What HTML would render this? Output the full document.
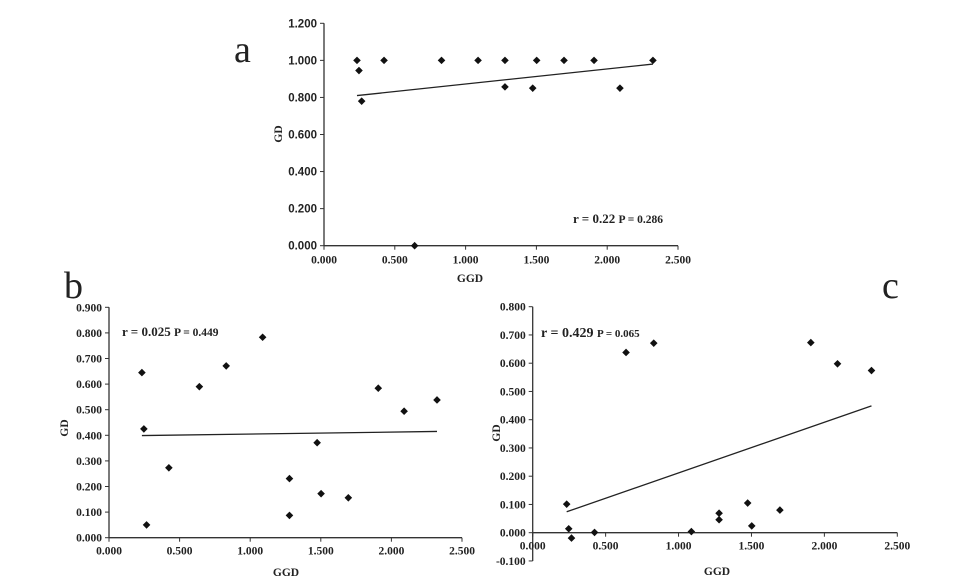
<!DOCTYPE html>
<html><head><meta charset="utf-8"><style>
html,body{margin:0;padding:0;background:#fff;}
svg{display:block;}
</style></head><body>
<svg id="fig" width="955" height="583" viewBox="0 0 955 583" xmlns="http://www.w3.org/2000/svg">
<text x="234" y="62" font-family="Liberation Serif, serif" font-size="38" fill="#222">a</text>
<text x="64" y="298" font-family="Liberation Serif, serif" font-size="38" fill="#222">b</text>
<text x="882" y="298" font-family="Liberation Serif, serif" font-size="38" fill="#222">c</text>
</svg>
<script>
const ggd = [0.233,0.247,0.266,0.424,0.640,0.830,1.088,1.278,1.278,1.474,1.502,1.695,1.907,2.090,2.323];
const gdA = [1.0,0.945,0.78,1.0,0.0,1.0,1.0,1.0,0.857,0.85,1.0,1.0,1.0,0.85,1.0];
const gdB = [0.645,0.425,0.05,0.273,0.59,0.671,0.783,0.231,0.087,0.371,0.172,0.156,0.584,0.494,0.538];
const gdC = [0.101,0.014,-0.019,0.001,0.638,0.671,0.004,0.046,0.069,0.105,0.024,0.08,0.673,0.598,0.574];
const trendA = [[0.233,0.81],[2.323,0.98]];
const trendB = [[0.233,0.399],[2.323,0.415]];
const trendC = [[0.233,0.074],[2.323,0.449]];
const xTicks = [0,0.5,1,1.5,2,2.5];
const yTicksA = [0,0.2,0.4,0.6,0.8,1.0,1.2];
const yTicksB = [0,0.1,0.2,0.3,0.4,0.5,0.6,0.7,0.8,0.9];
const yTicksC = [-0.1,0,0.1,0.2,0.3,0.4,0.5,0.6,0.7,0.8];

const svg = document.getElementById('fig');
const NS = 'http://www.w3.org/2000/svg';
function mk(tag, attrs, parent){const e=document.createElementNS(NS,tag);for(const k in attrs)e.setAttribute(k,attrs[k]);(parent||svg).appendChild(e);return e;}

function panel(p){
  const g = mk('g',{});
  
  
  const sx = v => p.x0 + (v - 0) / 2.5 * (p.x1 - p.x0);
  const sy = v => p.yZero - (v) / (p.yMax) * (p.yZero - p.yTop);
  const axisY = sy(0);
  const ya = mk('line',{x1:p.x0,y1:sy(p.yTicks[0]),x2:p.x0,y2:sy(p.yTicks[p.yTicks.length-1]),stroke:'#333','stroke-width':1.3},g);
  
  
  const xa = mk('line',{x1:p.x0,y1:axisY,x2:p.x1,y2:axisY,stroke:'#333','stroke-width':1.3},g);
  
  
  p.yTicks.forEach(v=>{
    const y=sy(v);
    mk('line',{x1:p.x0-4,y1:y,x2:p.x0,y2:y,stroke:'#333','stroke-width':1},g);
    const t=mk('text',{x:p.x0-7,y:y+4,'text-anchor':'end','font-family':p.yFont,'font-size':p.fs,'font-weight':'bold',fill:'#222'},g);
    t.textContent=v.toFixed(3);
    
    
  });
  xTicks.forEach(v=>{
    const x=sx(v);
    mk('line',{x1:x,y1:axisY,x2:x,y2:axisY+4,stroke:'#333','stroke-width':1},g);
    const t=mk('text',{x:x,y:axisY+p.xLabOff,'text-anchor':'middle','font-family':'Liberation Serif, serif','font-size':p.fs,'font-weight':'bold',fill:'#222'},g);
    t.textContent=v.toFixed(3);
    
    
  });
  const tl = mk('line',{x1:sx(p.trend[0][0]),y1:sy(p.trend[0][1]),x2:sx(p.trend[1][0]),y2:sy(p.trend[1][1]),stroke:'#222','stroke-width':1.3},g);
  
  
  ggd.forEach((xv,i)=>{
    const cx=sx(xv), cy=sy(p.gd[i]), r=3.8;
    const d=mk('polygon',{points:`${cx},${cy-r} ${cx+r},${cy} ${cx},${cy+r} ${cx-r},${cy}`,fill:'#111'},g);
    
    
  });
  const yt=mk('text',{x:0,y:0,transform:`translate(${p.gdX},${p.gdY}) rotate(-90)`,'text-anchor':'middle','font-family':'Liberation Serif, serif','font-size':p.fs,'font-weight':'bold',fill:'#222'},g);
  yt.textContent='GD';
  
  
  const xt=mk('text',{x:p.ggdX,y:p.ggdY,'text-anchor':'middle','font-family':'Liberation Serif, serif','font-size':p.fs,'font-weight':'bold',fill:'#222'},g);
  xt.textContent='GGD';
  
  
  const an=mk('text',{x:p.annX,y:p.annY,'font-family':'Liberation Serif, serif','font-weight':'bold',fill:'#222'},g);
  
  
  const s1=mk('tspan',{'font-size':p.rfs},an); s1.textContent=p.r+'  ';
  const s2=mk('tspan',{'font-size':p.pfs},an); s2.textContent=p.pv;
}

panel({id:'a',x0:324,x1:678,yZero:245.7,yTop:23.3,yMax:1.2,yTicks:yTicksA,gd:gdA,trend:trendA,
  yFont:'Liberation Sans, sans-serif',fs:11.5,xLabOff:18,gdX:282,gdY:134,ggdX:470,ggdY:282,
  annX:573,annY:223,rfs:13,pfs:11.5,r:'r = 0.22',pv:'P = 0.286'});
panel({id:'b',x0:109,x1:462,yZero:537.7,yTop:307.3,yMax:0.9,yTicks:yTicksB,gd:gdB,trend:trendB,
  yFont:'Liberation Serif, serif',fs:11.5,xLabOff:17,gdX:68,gdY:428,ggdX:286,ggdY:576,
  annX:122,annY:336,rfs:13,pfs:11.5,r:'r = 0.025',pv:'P = 0.449'});
panel({id:'c',x0:532.7,x1:897.3,yZero:532.7,yTop:306.7,yMax:0.8,yTicks:yTicksC,gd:gdC,trend:trendC,
  yFont:'Liberation Serif, serif',fs:11.5,xLabOff:17,gdX:500,gdY:433,ggdX:717,ggdY:575,
  annX:541,annY:337,rfs:14,pfs:11,r:'r = 0.429',pv:'P = 0.065'});
</script>
</body></html>
